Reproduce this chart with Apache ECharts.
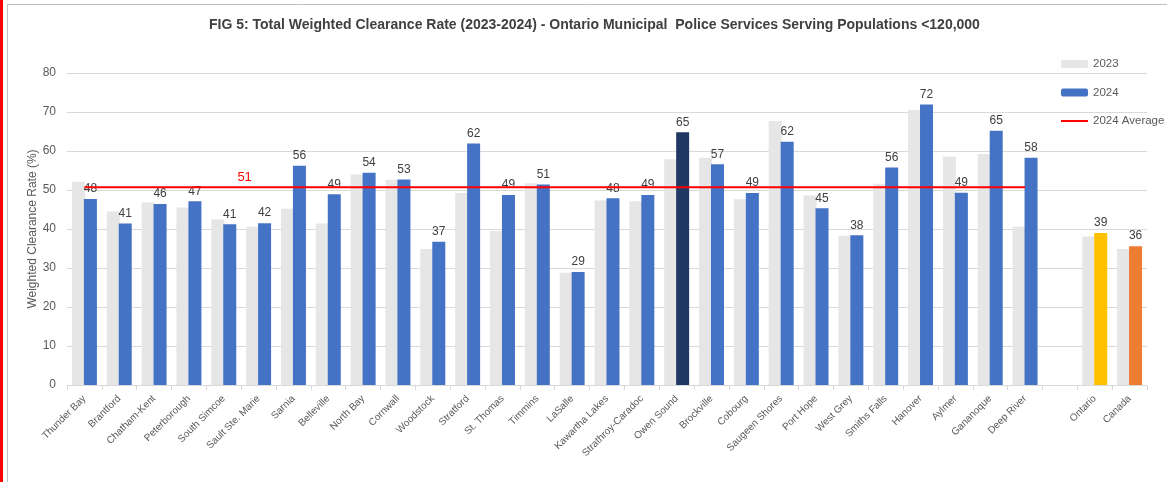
<!DOCTYPE html>
<html>
<head>
<meta charset="utf-8">
<script src="https://cdn.jsdelivr.net/npm/echarts@6/dist/echarts.min.js"></script>
<style>html,body{margin:0;padding:0;background:#fff;}#chart{width:1167px;height:482px;}</style>
</head>
<body>
<div id="chart"></div>
<script>
const categories = ['Thunder Bay','Brantford','Chatham-Kent','Peterborough','South Simcoe','Sault Ste. Marie','Sarnia','Belleville','North Bay','Cornwall','Woodstock','Stratford','St. Thomas','Timmins','LaSalle','Kawartha Lakes','Strathroy-Caradoc','Owen Sound','Brockville','Cobourg','Saugeen Shores','Port Hope','West Grey','Smiths Falls','Hanover','Aylmer','Gananoque','Deep River','','Ontario','Canada'];
const values2023 = [52.1,44.5,46.8,45.5,42.5,40.6,45.2,41.4,54.0,52.6,34.9,49.2,39.5,51.7,28.8,47.3,47.1,57.9,58.3,47.6,67.7,48.6,38.3,51.6,70.5,58.5,59.2,40.6,null,38.1,34.9];
const values2024 = [47.7,41.4,46.4,47.1,41.2,41.5,56.2,48.9,54.4,52.7,36.7,61.9,48.7,51.4,29.0,47.9,48.7,64.8,56.6,49.2,62.4,45.3,38.4,55.8,71.9,49.3,65.2,58.3,null,39.0,35.6];
const average2024 = 50.7;
const averageLabel = '51';
const yTicks = {min:0, max:80, interval:10};
const specialColors = {'Owen Sound':'#203864','Ontario':'#ffc000','Canada':'#ed7d31'};

const nMunicipal = 28;
const avgData = categories.map((c,i)=> i < nMunicipal ? average2024 : null);
const avgSeriesData = avgData.map((v,i)=> i===5 ? {value:v, label:{show:true, formatter:averageLabel, color:'#ff0000', fontSize:13, offset:[-14,2]}} : v);
const data2024 = values2024.map((v,i)=> specialColors[categories[i]] ? {value:v, itemStyle:{color:specialColors[categories[i]]}} : v);

const chart = echarts.init(document.getElementById('chart'), null, {renderer:'canvas'});
const font = 'Liberation Sans';
chart.setOption({
  backgroundColor:'#ffffff',
  animation:false,
  textStyle:{fontFamily:font},
  title:{
    text:'FIG 5: Total Weighted Clearance Rate (2023-2024) - Ontario Municipal  Police Services Serving Populations <120,000',
    left:204, top:13,
    textStyle:{fontFamily:font, fontSize:14, fontWeight:'bold', color:'#404040'}
  },
  legend:{
    orient:'vertical', left:1061, top:58, padding:0, itemWidth:27, itemHeight:8, itemGap:16.5,
    textStyle:{color:'#595959', fontSize:11.5, fontFamily:font},
    data:['2023','2024',{name:'2024 Average', icon:'path://M0,3 L27,3 L27,5 L0,5 Z'}]
  },
  grid:{left:67, right:20, top:73, bottom:97, containLabel:false},
  xAxis:{
    type:'category', data:categories,
    axisLine:{lineStyle:{color:'#d9d9d9'}},
    axisTick:{show:true, length:5, lineStyle:{color:'#d9d9d9'}},
    axisLabel:{rotate:45, color:'#595959', fontSize:10, interval:0, margin:12}
  },
  yAxis:{
    type:'value', min:yTicks.min, max:yTicks.max, interval:yTicks.interval,
    name:'Weighted Clearance Rate (%)', nameLocation:'middle', nameGap:28, nameMoveOverlap:false,
    nameTextStyle:{color:'#595959', fontSize:12},
    axisLine:{show:false}, axisTick:{show:false},
    axisLabel:{color:'#595959', fontSize:12, margin:11},
    splitLine:{lineStyle:{color:'#d9d9d9'}}
  },
  series:[
    {name:'2023', type:'bar', data:values2023, barWidth:13, barGap:'-8%', itemStyle:{color:'#e7e6e6'}},
    {name:'2024', type:'bar', data:data2024, barWidth:13, itemStyle:{color:'#4472c4'},
     label:{show:true, position:'top', distance:4, color:'#404040', fontSize:12, formatter:p=>Math.round(p.value)}},
    {name:'2024 Average', type:'line', data:avgSeriesData, symbol:'circle', symbolSize:0, showSymbol:true, connectNulls:false,
     lineStyle:{color:'#ff0000', width:2}, itemStyle:{color:'#ff0000'}, z:5}
  ],
  graphic:[
    {type:'rect', shape:{x:0,y:0,width:3,height:482}, style:{fill:'#ff0000'}},
    {type:'line', shape:{x1:7.5,y1:4,x2:7.5,y2:482}, style:{stroke:'#bfbfbf', lineWidth:1}},
    {type:'line', shape:{x1:7.5,y1:4.5,x2:1167,y2:4.5}, style:{stroke:'#bfbfbf', lineWidth:1}}
  ]
});
</script>
</body>
</html>
